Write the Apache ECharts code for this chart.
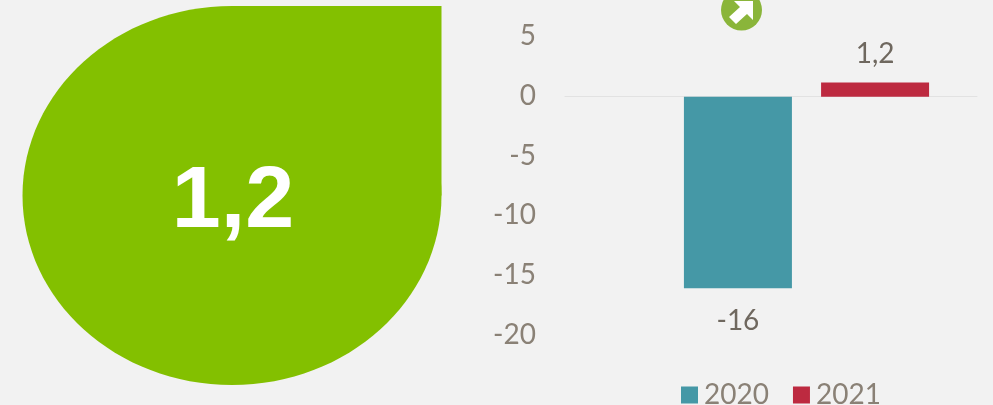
<!DOCTYPE html>
<html lang="en">
<head>
    <meta charset="utf-8">
    <title>Teardrop KPI with bars</title>
    <script src="https://cdn.jsdelivr.net/npm/echarts@6/dist/echarts.min.js"></script>
    <style>
        html, body { margin: 0; padding: 0; background: #f2f2f2; }
        #chart { width: 993px; height: 405px; }
    </style>
</head>
<body>
<div id="chart"></div>
<script>
    var seriesNames = ['2020', '2021'];
    var seriesValues = [-16, 1.2];
    var seriesColors = ['#4598a6', '#bd2a40'];
    var kpiValue = 1.2;
    var axisMin = -20;
    var axisMax = 5;
    var axisStep = 5;

    var textColor = '#8a8176';
    var labelColor = '#6f685f';
    var fontName = 'Lato';

    function comma(v) {
        return String(v).replace('.', ',');
    }

    var myChart = echarts.init(document.getElementById('chart'));

    var option = {
        backgroundColor: '#f2f2f2',
        animation: false,
        legend: {
            data: seriesNames,
            left: 676,
            top: 376,
            itemWidth: 17,
            itemHeight: 17,
            itemGap: 24,
            icon: 'rect',
            textStyle: { color: textColor, fontFamily: fontName, fontSize: 28, padding: [0, 0, 0, 1] }
        },
        // wide grid carries the axes, narrow one places the bars right of centre
        grid: [
            { left: 565, width: 412, top: 36, height: 299 },
            { left: 636, width: 341, top: 37, height: 299 }
        ],
        xAxis: [
            {
                gridIndex: 0, type: 'category', data: [''],
                axisLine: { lineStyle: { color: '#e2e2e2', width: 1 } },
                axisTick: { show: false }, axisLabel: { show: false }
            },
            {
                gridIndex: 1, type: 'category', data: [''],
                axisLine: { show: false }, axisTick: { show: false }, axisLabel: { show: false }
            }
        ],
        yAxis: [
            {
                gridIndex: 0, type: 'value', min: axisMin, max: axisMax, interval: axisStep,
                splitLine: { show: false }, axisLine: { show: false }, axisTick: { show: false },
                axisLabel: { color: textColor, fontFamily: fontName, fontSize: 28, margin: 29 }
            },
            {
                gridIndex: 1, type: 'value', min: axisMin, max: axisMax, interval: axisStep, show: false
            }
        ],
        series: seriesNames.map(function (name, i) {
            return {
                name: name,
                type: 'bar',
                xAxisIndex: 1,
                yAxisIndex: 1,
                barWidth: 108,
                barGap: '27%',
                itemStyle: { color: seriesColors[i] },
                label: {
                    show: true,
                    position: seriesValues[i] < 0 ? 'bottom' : 'top',
                    distance: seriesValues[i] < 0 ? 19 : 14,
                    color: labelColor,
                    fontFamily: fontName,
                    fontSize: 28,
                    formatter: function (p) { return comma(p.value); }
                },
                data: [seriesValues[i]]
            };
        }),
        graphic: [
            {
                type: 'ellipse',
                shape: { cx: 232, cy: 195.5, rx: 209.5, ry: 189.5 },
                style: { fill: '#83c000' }
            },
            {
                type: 'rect',
                shape: { x: 232, y: 6, width: 209.5, height: 189.5 },
                style: { fill: '#83c000' }
            },
            {
                type: 'text',
                x: 233, y: 203,
                style: {
                    text: comma(kpiValue),
                    fill: '#ffffff',
                    font: 'bold 88px "Liberation Sans"',
                    align: 'center',
                    verticalAlign: 'middle'
                }
            },
            {
                type: 'circle',
                shape: { cx: 741.5, cy: 10, r: 20.5 },
                style: { fill: '#8ab53a' }
            },
            {
                type: 'polygon',
                shape: { points: [[753, 1], [753, 20], [747, 14], [736, 24], [729, 17], [740, 7], [734, 1]] },
                style: { fill: '#ffffff' }
            }
        ]
    };

    myChart.setOption(option);
</script>
</body>
</html>
